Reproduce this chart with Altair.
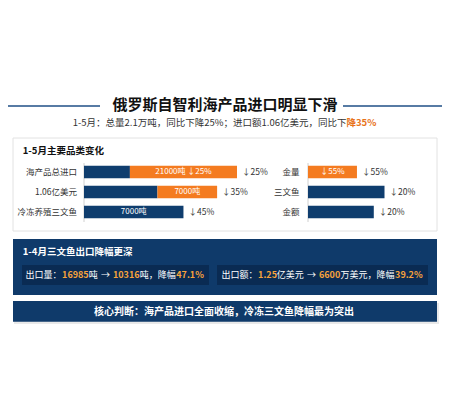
import altair as alt
import pandas as pd

# ---------------- data ----------------
title_text = "俄罗斯自智利海产品进口明显下滑"
subtitle_main = "1-5月：总量2.1万吨，同比下降25%；进口额1.06亿美元，同比下"
subtitle_hl = "降35%"

panel1_title = "1-5月主要品类变化"
left_cats = ["海产品总进口", "1.06亿美元", "冷冻养殖三文鱼"]
left_navy = [30, 48, 65]
left_orange = [70, 39, 0]
left_inner = ["21000吨 ↓25%", "7000吨", "7000吨"]
left_change = ["↓25%", "↓35%", "↓45%"]

right_cats = ["金量", "三文鱼", "金额"]
right_vals = [32, 50, 43]
right_seg = ["orange", "navy", "navy"]
right_inner = ["↓55%", "", ""]
right_change = ["↓55%", "↓20%", "↓20%"]

panel2_title = "1-4月三文鱼出口降幅更深"
line1_parts = ["出口量：", "16985", "吨", "→", "10316", "吨，降幅", "47.1%"]
line2_parts = ["出口额：", "1.25", "亿美元", "→", "6600", "万美元，降幅", "39.2%"]
part_hl = [False, True, False, False, True, False, True]

panel3_text = "核心判断：海产品进口全面收缩，冷冻三文鱼降幅最为突出"

# ---------------- style ----------------
FONT = "Noto Sans CJK SC"
NAVY = "#0f3d6e"
ORANGE = "#f47b20"
PANEL = "#0f3a6a"
INNER = "#0a2b53"
AMBER = "#f6a23c"
W, H = 434, 404

one = pd.DataFrame({"k": [0]})


def text_width(s, size, bold):
    w = 0.0
    for ch in s:
        if ch.isdigit():
            w += 0.58 if bold else 0.555
        elif ch == ".":
            w += 0.27
        elif ch == "%":
            w += 0.88
        elif ch == " ":
            w += 0.22
        elif ch == "-":
            w += 0.33
        else:
            w += 1.0
    return w * size


# bar segments
seg_rows = []
for i in range(3):
    seg_rows.append({"row": i, "start": 0, "end": left_navy[i], "seg": "navy"})
    if left_orange[i] > 0:
        seg_rows.append({"row": i, "start": left_navy[i], "end": left_navy[i] + left_orange[i], "seg": "orange"})
left_seg = pd.DataFrame(seg_rows)

left_lab = pd.DataFrame({
    "row": [0, 1, 2],
    "cat": left_cats,
    "inner": left_inner,
    "change": left_change,
    "end": [n + o for n, o in zip(left_navy, left_orange)],
    "mid": [(n + (n + o)) / 2 if o > 0 else n / 2 for n, o in zip(left_navy, left_orange)],
})
right_df = pd.DataFrame({
    "row": [0, 1, 2],
    "cat": right_cats,
    "val": right_vals,
    "start": [0, 0, 0],
    "seg": right_seg,
    "inner": right_inner,
    "change": right_change,
    "mid": [v / 2 for v in right_vals],
})

xl = alt.Scale(domain=[0, 100], range=[76, 229], nice=False)
xr = alt.Scale(domain=[0, 100], range=[300, 453], nice=False)
ys = alt.Scale(type="band", domain=[0, 1, 2], range=[157.75, 210.25], paddingInner=0.375, paddingOuter=0)
colscale = alt.Scale(domain=["navy", "orange"], range=[NAVY, ORANGE])


def box(x, x2, y, y2, fill, stroke=None, sw=0):
    kw = dict(fill=fill)
    if stroke:
        kw.update(stroke=stroke, strokeWidth=sw)
    return alt.Chart(one).mark_rect(**kw).encode(
        x=alt.value(x), x2=alt.value(x2), y=alt.value(y), y2=alt.value(y2))


def txt(text, x, y, size, color, weight="normal", align="left"):
    return alt.Chart(one).mark_text(
        text=text, font=FONT, fontSize=size, color=color, fontWeight=weight,
        align=align, baseline="middle").encode(x=alt.value(x), y=alt.value(y))


layers = []
# title with rules
layers.append(alt.Chart(one).mark_rule(color="#1f4f86", strokeWidth=1.5).encode(
    x=alt.value(0), x2=alt.value(92), y=alt.value(98)))
layers.append(alt.Chart(one).mark_rule(color="#1f4f86", strokeWidth=1.5).encode(
    x=alt.value(335), x2=alt.value(434), y=alt.value(98)))
layers.append(txt(title_text, 217, 97, 15, "#111111", "bold", "center"))
layers.append(txt(subtitle_main, 338.5, 115, 9.5, "#333333", "normal", "right"))
layers.append(txt(subtitle_hl, 338.5, 115, 9.5, "#e8731a", "bold", "left"))

# panel 1
layers.append(box(5, 429, 130, 223, "#ffffff", "#e2e2e2", 1))
layers.append(txt(panel1_title, 14.7, 143, 9.5, "#111111", "bold"))
layers.append(alt.Chart(one).mark_rule(color="#d0d0d0", strokeWidth=1).encode(
    x=alt.value(76), y=alt.value(155), y2=alt.value(214)))
layers.append(alt.Chart(one).mark_rule(color="#d0d0d0", strokeWidth=1).encode(
    x=alt.value(300), y=alt.value(155), y2=alt.value(214)))

layers.append(alt.Chart(left_seg).mark_bar().encode(
    x=alt.X("start:Q", scale=xl, axis=None),
    x2="end:Q",
    y=alt.Y("row:O", scale=ys, axis=None),
    color=alt.Color("seg:N", scale=colscale, legend=None)))
layers.append(alt.Chart(left_lab).mark_text(font=FONT, fontSize=8.5, color="#333333", align="right", baseline="middle").encode(
    x=alt.value(69), y=alt.Y("row:O", scale=ys, axis=None), text="cat:N"))
layers.append(alt.Chart(left_lab).mark_text(font=FONT, fontSize=8, color="#ffffff", align="center", baseline="middle").encode(
    x=alt.X("mid:Q", scale=xl, axis=None), y=alt.Y("row:O", scale=ys, axis=None), text="inner:N"))
layers.append(alt.Chart(left_lab).mark_text(font=FONT, fontSize=8.5, color="#333333", align="left", baseline="middle", dx=5).encode(
    x=alt.X("end:Q", scale=xl, axis=None), y=alt.Y("row:O", scale=ys, axis=None), text="change:N"))

layers.append(alt.Chart(right_df).mark_bar().encode(
    x=alt.X("start:Q", scale=xr, axis=None),
    x2="val:Q",
    y=alt.Y("row:O", scale=ys, axis=None),
    color=alt.Color("seg:N", scale=colscale, legend=None)))
layers.append(alt.Chart(right_df).mark_text(font=FONT, fontSize=8.5, color="#333333", align="right", baseline="middle").encode(
    x=alt.value(291.5), y=alt.Y("row:O", scale=ys, axis=None), text="cat:N"))
layers.append(alt.Chart(right_df).mark_text(font=FONT, fontSize=8, color="#ffffff", align="center", baseline="middle").encode(
    x=alt.X("mid:Q", scale=xr, axis=None), y=alt.Y("row:O", scale=ys, axis=None), text="inner:N"))
layers.append(alt.Chart(right_df).mark_text(font=FONT, fontSize=8.5, color="#333333", align="left", baseline="middle", dx=5).encode(
    x=alt.X("val:Q", scale=xr, axis=None), y=alt.Y("row:O", scale=ys, axis=None), text="change:N"))

# panel 2
layers.append(box(5, 429, 231, 287, PANEL))
layers.append(txt(panel2_title, 14.7, 243.7, 9.5, "#ffffff", "bold"))
layers.append(box(14, 201, 257, 277, INNER))
layers.append(box(209, 420, 257, 277, INNER))
LS = 9
for parts, x0 in ((line1_parts, 17.5), (line2_parts, 213.5)):
    x = x0
    for p, hl in zip(parts, part_hl):
        if p == "→":
            x += 2.5
        layers.append(txt(p, x, 267, LS, AMBER if hl else "#ffffff", "bold" if hl else "normal"))
        x += text_width(p, LS, hl) + 0.6
        if p == "→":
            x += 2.5

# panel 3
layers.append(box(6, 431, 295, 316, "#e9e9e9"))
layers.append(box(5, 429, 293, 313.7, PANEL))
layers.append(txt(panel3_text, 216, 303.5, 10, "#ffffff", "bold", "center"))

chart = alt.layer(*layers).resolve_scale(x="independent").properties(
    width=W, height=H, padding=0, autosize=alt.AutoSizeParams(type="none"),
    background="#ffffff"
).configure_view(stroke=None)

chart.save("out.html", embed_options={"renderer": "svg", "actions": False})
